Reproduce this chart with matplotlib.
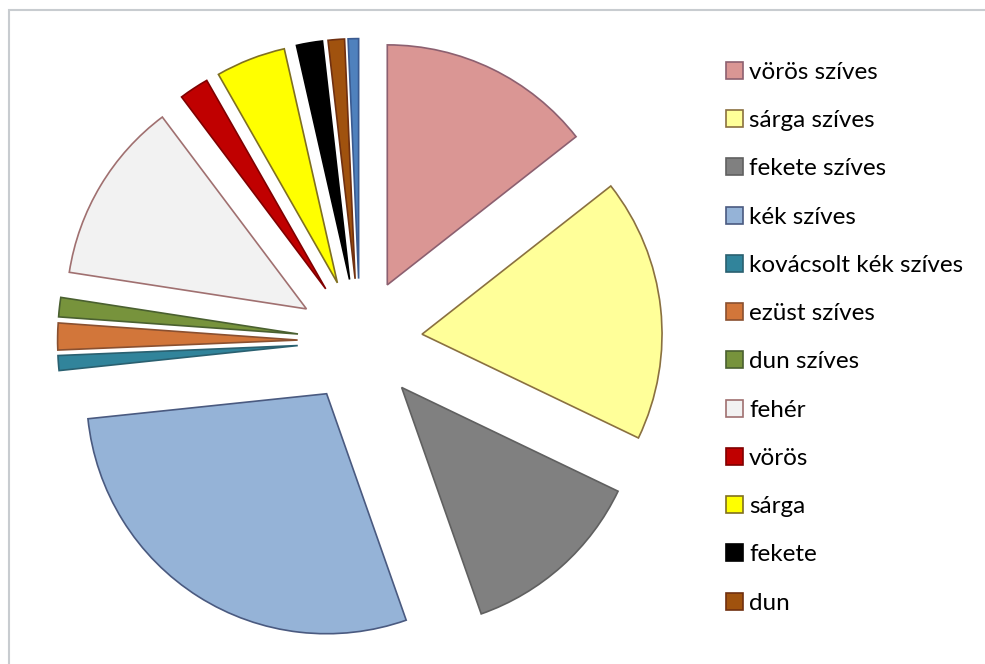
import matplotlib
matplotlib.use("Agg")
import matplotlib.pyplot as plt
from matplotlib.patches import Rectangle, Patch

categories = ["vörös szíves", "sárga szíves", "fekete szíves", "kék szíves",
              "kovácsolt kék szíves", "ezüst szíves", "dun szíves", "fehér",
              "vörös", "sárga", "fekete", "dun", "kék"]
values = [14.4, 17.7, 12.5, 28.7, 1.0, 1.8, 1.3, 12.3, 2.0, 4.7, 1.75, 1.1, 0.7]
legend_count = 12

face_colors = ["#DA9694", "#FFFF99", "#808080", "#95B3D7", "#31849B", "#D2763A",
               "#77933C", "#F2F2F2", "#C00000", "#FFFF00", "#000000", "#A0520E",
               "#4F81BD"]
edge_colors = ["#8C6070", "#8A7040", "#606060", "#4A5A80", "#2A6070", "#8A5030",
               "#4A6030", "#A07070", "#800000", "#807020", "#000000", "#703010",
               "#3A5A90"]

fig = plt.figure(figsize=(9.85, 6.64), dpi=100)
ax = fig.add_axes([0, 0, 1, 1])

wedges, _ = ax.pie(values, startangle=90, counterclock=False,
                   colors=face_colors, explode=[0.26] * len(values),
                   wedgeprops=dict(linewidth=1.2))
for w, ec in zip(wedges, edge_colors):
    w.set_edgecolor(ec)

ax.set_xlim(-1.5, 985 / 240 - 1.5)
ax.set_ylim(-(664 - 341) / 240, 341 / 240)
ax.set_aspect("equal")
ax.axis("off")

# chart border
fig.patches.append(Rectangle((9 / 985, -0.1), 1.2, 1.1 - 10 / 664, transform=fig.transFigure,
                             fill=False, edgecolor="#C8CCD0", linewidth=1.5))

handles = [Patch(facecolor=face_colors[i], edgecolor=edge_colors[i], linewidth=1.2)
           for i in range(legend_count)]
leg = fig.legend(handles, categories[:legend_count], loc="upper left",
                 bbox_to_anchor=(726 / 985, 1 - 62 / 664), frameon=False,
                 prop=dict(family="Lato", size=17.5), labelspacing=1.12,
                 handlelength=0.7, handleheight=0.7, handletextpad=0.25,
                 borderaxespad=0, borderpad=0)

fig.savefig("out.png", dpi=100)
